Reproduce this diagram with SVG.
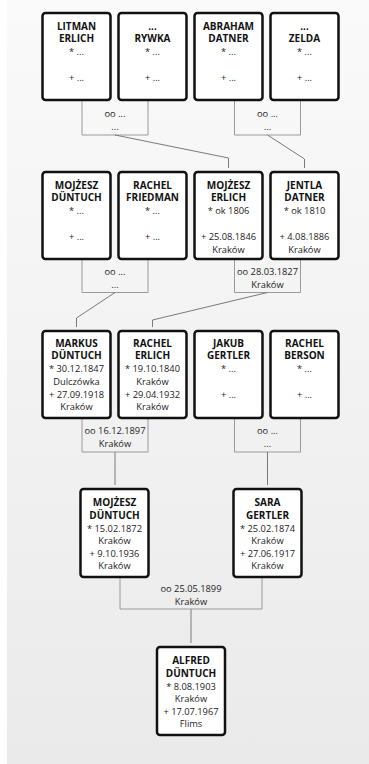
<svg xmlns="http://www.w3.org/2000/svg" width="369" height="764" viewBox="0 0 369 764">
<defs>
<linearGradient id="bg" x1="0" y1="0" x2="0" y2="1">
<stop offset="0" stop-color="#fafafa"/>
<stop offset="1" stop-color="#eaeaea"/>
</linearGradient>
</defs>
<style>
.box{fill:#fff;stroke:#111;stroke-width:2.5}
.n{font-family:"Open Sans","DejaVu Sans",sans-serif;font-size:10px;font-weight:bold;fill:#111;text-anchor:middle}
.t{font-family:"Open Sans","DejaVu Sans",sans-serif;font-size:9.3px;fill:#222;text-anchor:middle}
.br{fill:none;stroke:#9a9a9a;stroke-width:1}
.ln{fill:none;stroke:#7a7a7a;stroke-width:1}
</style>
<rect x="0" y="0" width="369" height="764" fill="#fff"/>
<rect x="7" y="0" width="362" height="764" fill="url(#bg)"/>

<g id="connectors">
<polyline class="br" points="82,101 82,135 148,135 148,101"/>
<polyline class="br" points="234.5,101 234.5,135 300.5,135 300.5,101"/>
<polyline class="br" points="82,260 82,292.5 148,292.5 148,260"/>
<polyline class="br" points="234.5,260 234.5,292.5 300.5,292.5 300.5,260"/>
<polyline class="br" points="82,419 82,452 148,452 148,419"/>
<polyline class="br" points="234.5,419 234.5,452 300.5,452 300.5,419"/>
<polyline class="br" points="120,578 120,609 262,609 262,578"/>
<polyline class="ln" points="115,135 228.5,158 228.5,168"/>
<polyline class="ln" points="267.5,135 304.5,159 304.5,168"/>
<polyline class="ln" points="115,292.5 76.5,318 76.5,327"/>
<polyline class="ln" points="267.5,292.5 152.5,320 152.5,327"/>
<line class="ln" x1="115" y1="452" x2="115" y2="485"/>
<line class="ln" x1="267.5" y1="452" x2="267.5" y2="485"/>
<line class="ln" x1="191" y1="609" x2="191" y2="643"/>
<text class="t" x="115" y="117">oo ...</text>
<text class="t" x="115" y="130">...</text>
<text class="t" x="267.5" y="117">oo ...</text>
<text class="t" x="267.5" y="130">...</text>
<text class="t" x="115" y="275">oo ...</text>
<text class="t" x="115" y="288">...</text>
<text class="t" x="267.5" y="275">oo 28.03.1827</text>
<text class="t" x="267.5" y="288">Kraków</text>
<text class="t" x="115" y="434">oo 16.12.1897</text>
<text class="t" x="115" y="447">Kraków</text>
<text class="t" x="267.5" y="434">oo ...</text>
<text class="t" x="267.5" y="447">...</text>
<text class="t" x="191" y="592">oo 25.05.1899</text>
<text class="t" x="191" y="605">Kraków</text>
</g>

<g id="litman-erlich">
<rect class="box" x="42.5" y="13" width="68" height="87" rx="3"/>
<text class="n" x="76.5" y="29.5">LITMAN</text>
<text class="n" x="76.5" y="42.3">ERLICH</text>
<text class="t" x="76.5" y="55">* ...</text>
<text class="t" x="76.5" y="81">+ ...</text>
</g>
<g id="rywka">
<rect class="box" x="118.5" y="13" width="68" height="87" rx="3"/>
<text class="n" x="152.5" y="29.5">...</text>
<text class="n" x="152.5" y="42.3">RYWKA</text>
<text class="t" x="152.5" y="55">* ...</text>
<text class="t" x="152.5" y="81">+ ...</text>
</g>
<g id="abraham-datner">
<rect class="box" x="194.5" y="13" width="68" height="87" rx="3"/>
<text class="n" x="228.5" y="29.5">ABRAHAM</text>
<text class="n" x="228.5" y="42.3">DATNER</text>
<text class="t" x="228.5" y="55">* ...</text>
<text class="t" x="228.5" y="81">+ ...</text>
</g>
<g id="zelda">
<rect class="box" x="270.5" y="13" width="68" height="87" rx="3"/>
<text class="n" x="304.5" y="29.5">...</text>
<text class="n" x="304.5" y="42.3">ZELDA</text>
<text class="t" x="304.5" y="55">* ...</text>
<text class="t" x="304.5" y="81">+ ...</text>
</g>

<g id="mojzesz-duntuch-1">
<rect class="box" x="42.5" y="172" width="68" height="87" rx="3"/>
<text class="n" x="76.5" y="188.5">MOJŻESZ</text>
<text class="n" x="76.5" y="201.3">DÜNTUCH</text>
<text class="t" x="76.5" y="214">* ...</text>
<text class="t" x="76.5" y="240">+ ...</text>
</g>
<g id="rachel-friedman">
<rect class="box" x="118.5" y="172" width="68" height="87" rx="3"/>
<text class="n" x="152.5" y="188.5">RACHEL</text>
<text class="n" x="152.5" y="201.3">FRIEDMAN</text>
<text class="t" x="152.5" y="214">* ...</text>
<text class="t" x="152.5" y="240">+ ...</text>
</g>
<g id="mojzesz-erlich">
<rect class="box" x="194.5" y="172" width="68" height="87" rx="3"/>
<text class="n" x="228.5" y="188.5">MOJŻESZ</text>
<text class="n" x="228.5" y="201.3">ERLICH</text>
<text class="t" x="228.5" y="214">* ok 1806</text>
<text class="t" x="228.5" y="240">+ 25.08.1846</text>
<text class="t" x="228.5" y="252.5">Kraków</text>
</g>
<g id="jentla-datner">
<rect class="box" x="270.5" y="172" width="68" height="87" rx="3"/>
<text class="n" x="304.5" y="188.5">JENTLA</text>
<text class="n" x="304.5" y="201.3">DATNER</text>
<text class="t" x="304.5" y="214">* ok 1810</text>
<text class="t" x="304.5" y="240">+ 4.08.1886</text>
<text class="t" x="304.5" y="252.5">Kraków</text>
</g>

<g id="markus-duntuch">
<rect class="box" x="42.5" y="331" width="68" height="87" rx="3"/>
<text class="n" x="76.5" y="346.5">MARKUS</text>
<text class="n" x="76.5" y="359.3">DÜNTUCH</text>
<text class="t" x="76.5" y="372">* 30.12.1847</text>
<text class="t" x="76.5" y="385">Dulczówka</text>
<text class="t" x="76.5" y="397.5">+ 27.09.1918</text>
<text class="t" x="76.5" y="410">Kraków</text>
</g>
<g id="rachel-erlich">
<rect class="box" x="118.5" y="331" width="68" height="87" rx="3"/>
<text class="n" x="152.5" y="346.5">RACHEL</text>
<text class="n" x="152.5" y="359.3">ERLICH</text>
<text class="t" x="152.5" y="372">* 19.10.1840</text>
<text class="t" x="152.5" y="385">Kraków</text>
<text class="t" x="152.5" y="397.5">+ 29.04.1932</text>
<text class="t" x="152.5" y="410">Kraków</text>
</g>
<g id="jakub-gertler">
<rect class="box" x="194.5" y="331" width="68" height="87" rx="3"/>
<text class="n" x="228.5" y="346.5">JAKUB</text>
<text class="n" x="228.5" y="359.3">GERTLER</text>
<text class="t" x="228.5" y="372">* ...</text>
<text class="t" x="228.5" y="397.5">+ ...</text>
</g>
<g id="rachel-berson">
<rect class="box" x="270.5" y="331" width="68" height="87" rx="3"/>
<text class="n" x="304.5" y="346.5">RACHEL</text>
<text class="n" x="304.5" y="359.3">BERSON</text>
<text class="t" x="304.5" y="372">* ...</text>
<text class="t" x="304.5" y="397.5">+ ...</text>
</g>

<g id="mojzesz-duntuch-2">
<rect class="box" x="80.5" y="489" width="68" height="88" rx="3"/>
<text class="n" x="114.5" y="506">MOJŻESZ</text>
<text class="n" x="114.5" y="518.8">DÜNTUCH</text>
<text class="t" x="114.5" y="531.5">* 15.02.1872</text>
<text class="t" x="114.5" y="544">Kraków</text>
<text class="t" x="114.5" y="556.5">+ 9.10.1936</text>
<text class="t" x="114.5" y="569">Kraków</text>
</g>
<g id="sara-gertler">
<rect class="box" x="233.5" y="489" width="68" height="88" rx="3"/>
<text class="n" x="267.5" y="506">SARA</text>
<text class="n" x="267.5" y="518.8">GERTLER</text>
<text class="t" x="267.5" y="531.5">* 25.02.1874</text>
<text class="t" x="267.5" y="544">Kraków</text>
<text class="t" x="267.5" y="556.5">+ 27.06.1917</text>
<text class="t" x="267.5" y="569">Kraków</text>
</g>

<g id="alfred-duntuch">
<rect class="box" x="157" y="647" width="68" height="88" rx="3"/>
<text class="n" x="191" y="664">ALFRED</text>
<text class="n" x="191" y="676.8">DÜNTUCH</text>
<text class="t" x="191" y="689.5">* 8.08.1903</text>
<text class="t" x="191" y="702">Kraków</text>
<text class="t" x="191" y="714.5">+ 17.07.1967</text>
<text class="t" x="191" y="727">Flims</text>
</g>
</svg>
